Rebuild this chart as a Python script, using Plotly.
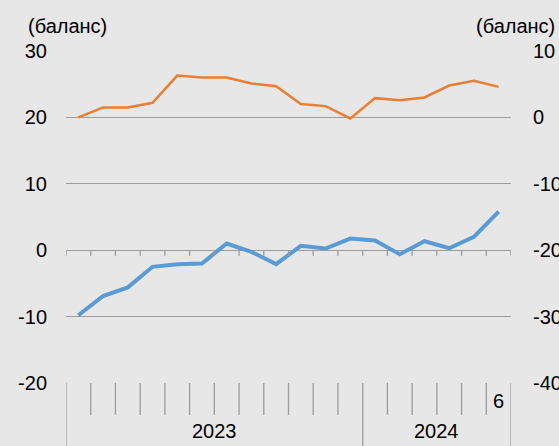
import plotly.graph_objects as go

months = ["2023-01", "2023-02", "2023-03", "2023-04", "2023-05", "2023-06",
          "2023-07", "2023-08", "2023-09", "2023-10", "2023-11", "2023-12",
          "2024-01", "2024-02", "2024-03", "2024-04", "2024-05", "2024-06"]
# blue series, left axis
blue_vals = [-9.8, -6.9, -5.6, -2.5, -2.1, -2.0, 1.0, -0.25, -2.1, 0.65, 0.25, 1.75,
             1.45, -0.6, 1.35, 0.3, 2.0, 5.8]
# orange series, right axis
orange_vals = [0.0, 1.5, 1.5, 2.2, 6.3, 6.0, 6.0, 5.1, 4.7, 2.0, 1.7, -0.15,
               2.9, 2.6, 3.0, 4.8, 5.5, 4.6]
left_ticks = [-20, -10, 0, 10, 20, 30]
left_tick_text = ["-20", "-10", "0", "10", "20", "30"]
right_ticks = [-40, -30, -20, -10, 0, 10]
right_tick_text = ["-40", "-30", "-20", "-10", "0", "10"]
year_labels = ["2023", "2024"]
last_month_label = "6"
unit_label = "(баланс)"

FONT = "Arial, Liberation Sans, sans-serif"
BG = "#e7e7e7"
GRID = "#9c9c9c"

n = len(months)
x = list(range(n))

fig = go.Figure()
fig.add_trace(go.Scatter(x=x, y=orange_vals, yaxis="y2", mode="lines",
                         line=dict(color="#ED7D31", width=2.5), showlegend=False,
                         hoverinfo="skip"))
fig.add_trace(go.Scatter(x=x, y=blue_vals, yaxis="y", mode="lines",
                         line=dict(color="#5B9BD5", width=4), showlegend=False,
                         hoverinfo="skip"))

shapes = []
# small ticks under the zero line
for i in range(n + 1):
    shapes.append(dict(type="line", xref="x", yref="y", x0=i - 0.5, x1=i - 0.5,
                       y0=0, y1=-0.85, line=dict(color=GRID, width=1.3)))
# month separators in bottom box
years = [m[:4] for m in months]
for i in range(n + 1):
    boundary_year = (i == 0) or (i == n) or (years[i] != years[i - 1])
    shapes.append(dict(type="line", xref="x", yref="paper", x0=i - 0.5, x1=i - 0.5,
                       y0=0, y1=-0.25 if boundary_year else -0.0964,
                       line=dict(color=GRID, width=1.3)))

annotations = []
for yl in year_labels:
    idx = [i for i, m in enumerate(months) if m.startswith(yl)]
    annotations.append(dict(x=sum(idx) / len(idx), y=-0.146, xref="x", yref="paper",
                            text=yl, showarrow=False, xanchor="center", yanchor="middle",
                            font=dict(size=20, family=FONT, color="#000")))
annotations.append(dict(x=n - 1, y=-0.0557, xref="x", yref="paper", text=last_month_label,
                        showarrow=False, xanchor="center", yanchor="middle",
                        font=dict(size=20, family=FONT, color="#000")))
annotations.append(dict(x=-0.0899, y=1.075, xref="paper", yref="paper", text=unit_label,
                        showarrow=False, xanchor="left", yanchor="middle",
                        font=dict(size=20, family=FONT, color="#000")))
annotations.append(dict(x=1.103, y=1.075, xref="paper", yref="paper", text=unit_label,
                        showarrow=False, xanchor="right", yanchor="middle",
                        font=dict(size=20, family=FONT, color="#000")))

fig.update_layout(
    width=559, height=446,
    margin=dict(l=66, r=48, t=51, b=63, autoexpand=False),
    paper_bgcolor=BG, plot_bgcolor=BG,
    xaxis=dict(range=[-0.5, n - 0.5], showgrid=False, showticklabels=False,
               zeroline=False, showline=False, ticks="", automargin=False),
    yaxis=dict(range=[-20, 30], tickvals=left_ticks, ticktext=left_tick_text,
               showgrid=True, gridcolor=GRID, automargin=False,
               gridwidth=1.3, zeroline=False, showline=False, ticks="",
               ticklabelstandoff=18,
               tickfont=dict(size=20, family=FONT, color="#000")),
    yaxis2=dict(range=[-40, 10], tickvals=right_ticks, ticktext=right_tick_text,
                overlaying="y", side="right", automargin=False,
                showgrid=False, zeroline=False, showline=False, ticks="",
                ticklabelstandoff=21,
                tickfont=dict(size=20, family=FONT, color="#000")),
    shapes=shapes, annotations=annotations,
)

fig.write_html("out.html", config={"displayModeBar": False},
               post_script="document.body.style.margin='0';document.body.style.background='%s';" % BG)
